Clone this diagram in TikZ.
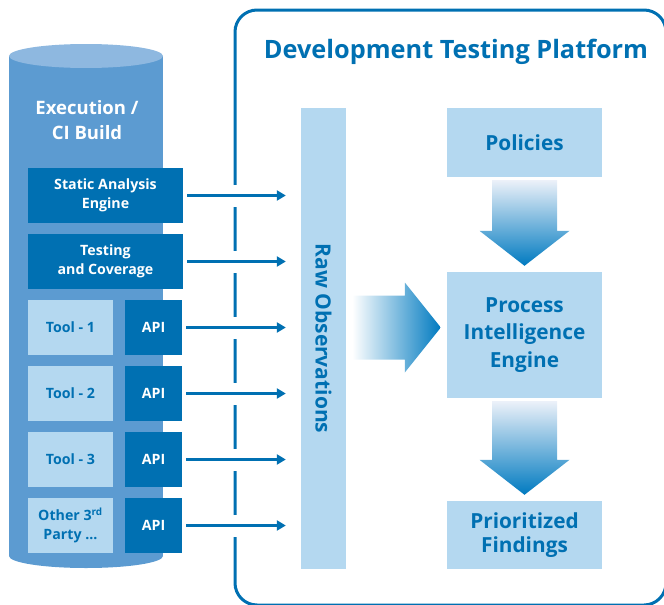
\documentclass[tikz,border=0pt]{standalone}
\usepackage{fontspec}
\setmainfont{Open Sans}
\usetikzlibrary{calc,arrows.meta}
\definecolor{tdblue}{RGB}{0,112,178}
\definecolor{tdlight}{RGB}{180,216,240}
\definecolor{cylbody}{RGB}{92,155,209}
\definecolor{cyltop}{RGB}{142,184,224}
\definecolor{flowblue}{RGB}{0,122,192}
\definecolor{flowtop}{RGB}{236,241,249}
\newcommand\flowdown[2]{%
  \shade[top color=flowtop, bottom color=flowblue]
    ($(#1.south)+(-32.5,3)$) -- ($(#1.south)+(32.5,3)$)
    -- ($(#2.north)+(32.5,-41)$) -- ($(#2.north)+(45,-41)$)
    -- ($(#2.north)+(0,-6)$)
    -- ($(#2.north)+(-45,-41)$) -- ($(#2.north)+(-32.5,-41)$) -- cycle;}
\begin{document}
\begin{tikzpicture}[x=1pt,y=-1pt,
  darkbox/.style={fill=tdblue, text=white, font=\bfseries\fontsize{14.2}{19}\selectfont,
    align=center, inner sep=0pt, minimum width=155pt, minimum height=55pt},
  toolbox/.style={fill=tdlight, text=tdblue, font=\bfseries\fontsize{14.2}{19}\selectfont,
    align=center, inner sep=0pt, minimum width=85pt, minimum height=55pt},
  apibox/.style={darkbox, minimum width=57pt},
  stage/.style={fill=tdlight, text=tdblue, font=\bfseries\fontsize{20.8}{27.5}\selectfont,
    align=center, inner sep=0pt, minimum width=155pt},
  feed/.style={tdblue, line width=3pt, -{Triangle[length=9pt,width=10pt]},
    shorten <=4pt, shorten >=15pt},
  gap/.style={white, line width=22pt, shorten <=4pt, shorten >=15pt},
  frame/.style={tdblue, line width=3pt, rounded corners=22pt}]
\path[use as bounding box, clip] (0,0) rectangle (664,605);

\fill[cylbody] (9,56) rectangle (163,556);
\fill[cylbody] (86,556) ellipse[x radius=77, y radius=12];
\fill[cyltop] (86,56) ellipse[x radius=77, y radius=12];
\node[text=white, font=\bfseries\fontsize{18.5}{25}\selectfont, align=center] (exec) at (87,120) {Execution /\\CI Build};

\node[darkbox] (sa) at (105.5,195.5) {Static Analysis\\Engine};
\node[darkbox] (tc) at (105.5,261.5) {Testing\\and Coverage};
\foreach \i/\y/\t in {1/327.5/Tool - 1, 2/393.5/Tool - 2, 3/459.5/Tool - 3,
    4/525.5/{Other 3\textsuperscript{rd}\\Party ...}} {
  \node[toolbox] (tool\i) at (70.5,\y) {\t};
  \node[apibox] (api\i) at (153.5,\y) {API};
}

\draw[frame] (235,10) rectangle (666,605);
\node[text=tdblue, font=\bfseries\fontsize{25.3}{28}\selectfont] (title) at (456,52) {Development Testing Platform};

\node[fill=tdlight, text=tdblue, font=\bfseries\fontsize{21}{24}\selectfont, inner sep=0pt,
  minimum width=45pt, minimum height=461pt] (obs) at (323.5,338.5) {\rotatebox{-90}{Raw Observations}};

\foreach \n in {sa,tc,api1,api2,api3,api4} {
  \draw[gap] (\n.east) -- (\n.east -| obs.west);
  \draw[feed] (\n.east) -- (\n.east -| obs.west);
}

\node[stage, minimum height=69pt] (policies) at (524.5,142.5) {Policies};
\node[stage, minimum height=126pt] (process) at (524.5,335) {Process\\Intelligence\\Engine};
\node[stage, minimum height=68pt, font=\bfseries\fontsize{20.8}{24}\selectfont] (findings) at (524.5,535) {Prioritized\\Findings};

\coordinate (tip) at ($(process.west)+(-6,-7.5)$);
\shade[left color=white, right color=flowblue]
  ($(obs.east |- tip)+(6,-32)$) -- ($(tip)+(-36,-32)$) -- ($(tip)+(-36,-45)$) -- (tip)
  -- ($(tip)+(-36,45)$) -- ($(tip)+(-36,32)$) -- ($(obs.east |- tip)+(6,32)$) -- cycle;
\flowdown{policies}{process}
\flowdown{process}{findings}
\end{tikzpicture}
\end{document}
